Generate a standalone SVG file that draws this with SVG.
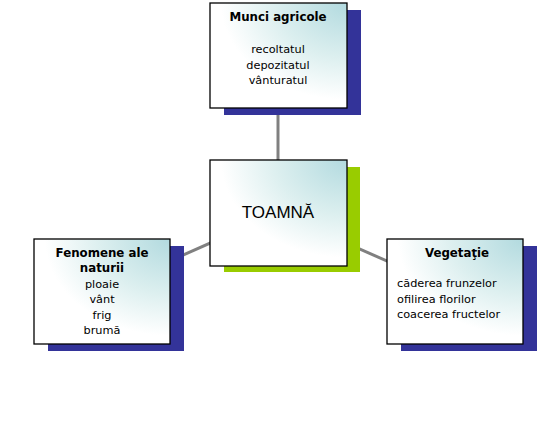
<svg xmlns="http://www.w3.org/2000/svg" width="558" height="423" viewBox="0 0 558 423">
<defs>
<radialGradient id="g" cx="1" cy="0" r="1.15" fx="1" fy="0">
<stop offset="0" stop-color="#b2dadf"/>
<stop offset="0.45" stop-color="#dcefef"/>
<stop offset="0.8" stop-color="#ffffff"/>
</radialGradient>
<style>
.box{fill:url(#g);stroke:#000;stroke-width:1.3}
.sh{fill:#333399}
.shg{fill:#99cc00}
.t{font-family:"DejaVu Sans",Verdana,sans-serif;font-size:11.3px;fill:#000}
.b{font-family:"DejaVu Sans",Verdana,sans-serif;font-size:11.8px;font-weight:bold;fill:#000}
.c{text-anchor:middle}
.conn{stroke:#808080;stroke-width:3;fill:none}
</style>
</defs>
<rect width="558" height="423" fill="#fff"/>
<g id="connectors">
<line class="conn" x1="278" y1="55" x2="278" y2="213"/>
<line class="conn" x1="278" y1="213" x2="102" y2="291"/>
<line class="conn" x1="278" y1="213" x2="455" y2="291"/>
</g>
<g id="munci">
<rect class="sh" x="224" y="10" width="137" height="105"/>
<rect class="box" x="210" y="3" width="137" height="105"/>
<text class="b c" x="278" y="21">Munci agricole</text>
<text class="t c" x="278" y="52.5">recoltatul</text>
<text class="t c" x="278" y="68.5">depozitatul</text>
<text class="t c" x="278" y="84">vânturatul</text>
</g>
<g id="toamna">
<rect class="shg" x="224" y="167" width="136" height="105"/>
<rect class="box" x="210" y="160" width="137" height="106"/>
<text class="c" x="278" y="218" font-family="Liberation Sans, Arial, sans-serif" font-size="17">TOAMNĂ</text>
</g>
<g id="fenomene">
<rect class="sh" x="48" y="246" width="136" height="105"/>
<rect class="box" x="34" y="239" width="136" height="105"/>
<text class="b c" x="102" y="256.5">Fenomene ale</text>
<text class="b c" x="102" y="272">naturii</text>
<text class="t c" x="102" y="287.5">ploaie</text>
<text class="t c" x="102" y="303">vânt</text>
<text class="t c" x="102" y="318.5">frig</text>
<text class="t c" x="102" y="334">brumă</text>
</g>
<g id="vegetatie">
<rect class="sh" x="401" y="246" width="136" height="105"/>
<rect class="box" x="387" y="239" width="136" height="105"/>
<text class="b c" x="457" y="257">Vegetaţie</text>
<text class="t" x="397" y="287">căderea frunzelor</text>
<text class="t" x="397" y="302.5">ofilirea florilor</text>
<text class="t" x="397" y="318">coacerea fructelor</text>
</g>
</svg>
